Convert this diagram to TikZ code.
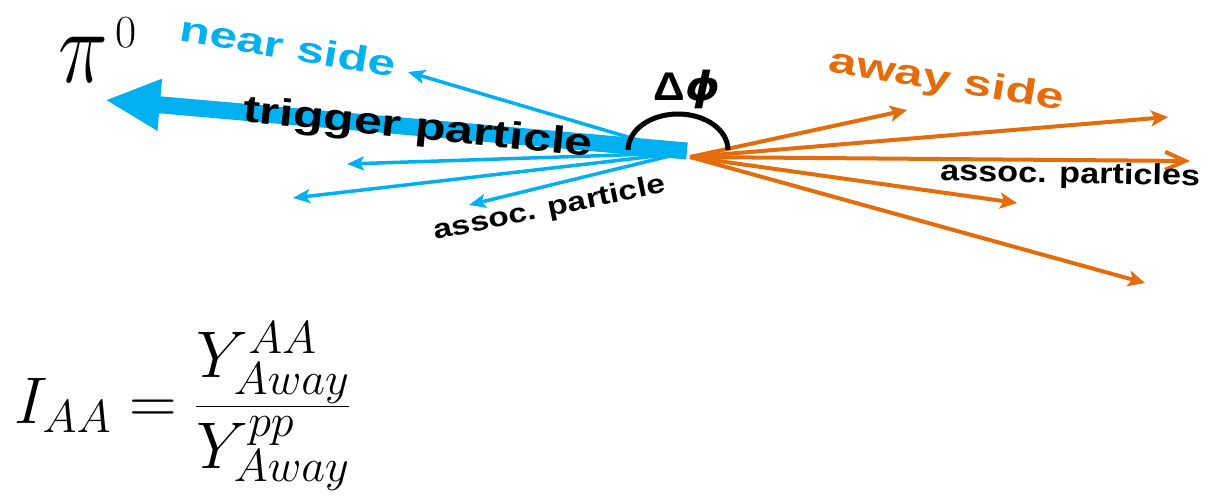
\RequirePackage{fix-cm}
\documentclass[tikz,border=0pt]{standalone}
\usepackage{amsmath}
\usepackage{graphicx}
\usepackage{fontspec}
\newfontfamily\arialb{Liberation Sans}
\newfontfamily\dejab{DejaVu Sans}
\usetikzlibrary{arrows.meta}
\definecolor{nearblue}{HTML}{00B0F0}
\definecolor{awayorange}{HTML}{E46C0A}
\tikzset{
  lbl/.style={inner sep=0pt, anchor=base},
  bigtxt/.style={lbl, font=\arialb\bfseries\fontsize{36}{42}\selectfont},
  thinblue/.style={draw=nearblue, line width=3.5pt, -{Stealth[length=17pt,width=14pt,inset=4pt]}},
  thinorange/.style={draw=awayorange, line width=4pt, -{Stealth[length=17pt,width=16pt,inset=4pt]}},
  openorange/.style={draw=awayorange, line width=4pt, -{Straight Barb[length=20pt,width=18pt]}},
  trig/.style={draw=nearblue, line width=17pt, -{Triangle[length=55pt,width=48pt]}},
}
\begin{document}
\begin{tikzpicture}[x=1pt,y=-1pt]
\useasboundingbox (0,0) rectangle (1214,503);
% origins
\coordinate (O) at (687,151);
\coordinate (Ob) at (682,153);
\coordinate (Oo) at (690,157);
% blue tips
\coordinate (b1) at (408,72);
\coordinate (b2) at (347,164);
\coordinate (b3) at (293,198);
\coordinate (b4) at (469,205);
\coordinate (tt) at (105,100);
% orange tips
\coordinate (o1) at (907,110);
\coordinate (o2) at (1168,117);
\coordinate (o3) at (1190,161);
\coordinate (o4) at (1017,203);
\coordinate (o5) at (1145,283);

\draw[thinblue] (Ob) -- (b1);
\draw[thinblue] (Ob) -- (b2);
\draw[thinblue] (Ob) -- (b3);
\draw[thinblue] (Ob) -- (b4);
\draw[trig] (O) -- (tt);

\draw[thinorange] (Oo) -- (o1);
\draw[thinorange] (Oo) -- (o2);
\draw[openorange] (Oo) -- (o3);
\draw[thinorange] (Oo) -- (o4);
\draw[thinorange] (Oo) -- (o5);

% angle arc
\draw[line width=5pt] (628,150) arc[start angle=180, end angle=360, x radius=50, y radius=36];

% labels
\node[lbl, anchor=base west] (pi) at (58,82) {\fontsize{84}{90}\selectfont\scalebox{1}[1.25]{$\pi$}\hspace{8pt}\raisebox{35pt}{\fontsize{46}{46}\selectfont 0}};
\node[bigtxt, text=nearblue, rotate=-9.6, xscale=1.38] (near) at (286,59) {near side};
\node[bigtxt, font=\arialb\bfseries\fontsize{38}{44}\selectfont, rotate=-5.7, xscale=1.32] (trigtxt) at (417,139) {trigger particle};
\node[lbl, font=\arialb\bfseries\fontsize{27}{32}\selectfont, rotate=11.7, xscale=1.24] (assoc) at (551,216) {assoc. particle};
\node[bigtxt, text=awayorange, rotate=-9.4, xscale=1.4] (away) at (945,91) {away side};
\node[lbl, font=\arialb\bfseries\fontsize{29}{34}\selectfont, rotate=-1.1, xscale=1.18] (assocs) at (1070,183) {assoc. particles};
\node[lbl, font=\fontsize{40}{46}\selectfont, xscale=1.1] (dphi) at (687,100) {{\arialb\bfseries Δ}{\dejab\bfseries\itshape ϕ}};

% formula
\node[lbl, anchor=base west, font=\fontsize{66}{70}\selectfont] (iaa) at (14,423)
  {$\displaystyle I_{AA}=\frac{Y^{AA}_{Away}}{Y^{pp}_{Away}}$};
\end{tikzpicture}
\end{document}
